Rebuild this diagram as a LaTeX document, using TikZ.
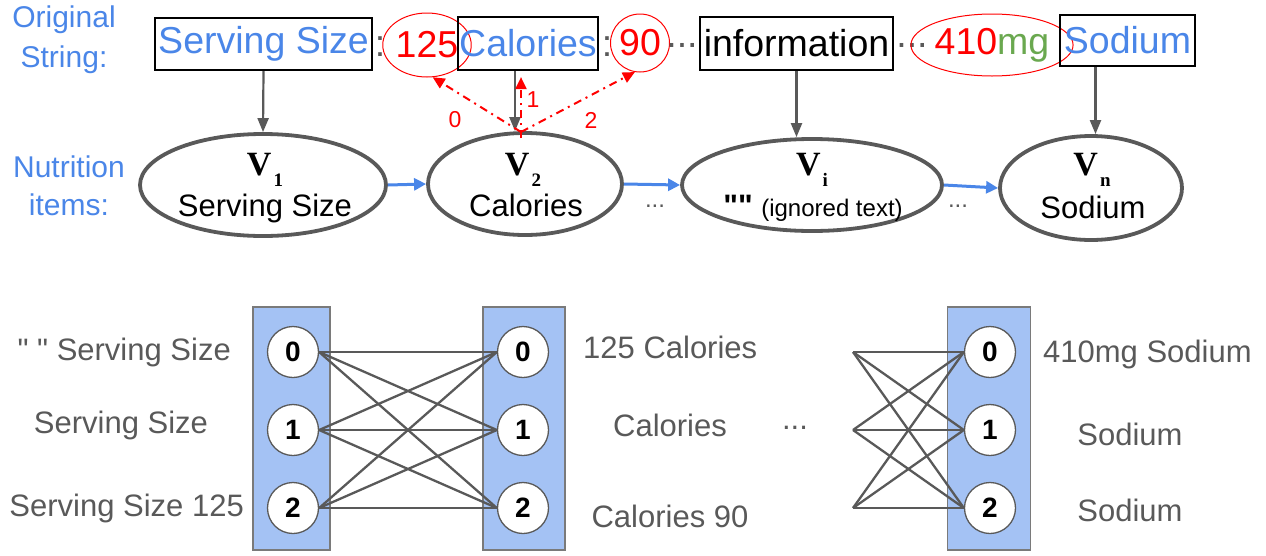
\documentclass[tikz,border=0pt]{standalone}
\usepackage{fontspec}
\setmainfont{Liberation Sans}
\newfontfamily\serifbf{Liberation Serif}
% family without TeX ligature mapping, so that " stays a straight quote
\newfontfamily\plainsans{Liberation Sans}
\usetikzlibrary{shapes.geometric,arrows.meta}

\definecolor{itemblue}{HTML}{4A86E8}
\definecolor{strred}{HTML}{FF0000}
\definecolor{unitgreen}{HTML}{6AA84F}
\definecolor{inkgray}{HTML}{595959}
\definecolor{colfill}{HTML}{A4C2F4}

\newcommand{\fs}[1]{\fontsize{#1}{#1}\selectfont}
\newcommand{\vsym}[1]{{\serifbf\bfseries\fs{34}V\kern2pt\raisebox{-11pt}{\fs{19}#1}}}
\newcommand{\dq}{{\plainsans\char34}}

\tikzset{
  strbox/.style={draw=black, line width=2.2pt, inner sep=0pt, text=itemblue, font=\fs{37.5}},
  tok/.style={inner sep=0pt, font=\fs{37.5}},
  ring/.style={ellipse, draw=strred, line width=1pt, inner sep=0pt, font=\fs{37.5}, text=strred},
  item/.style={ellipse, draw=inkgray, line width=3.8pt, fill=white, inner sep=0pt},
  itemtext/.style={inner sep=0pt, font=\fs{31}},
  garrow/.style={draw=inkgray, line width=2.2pt, -{Triangle[width=11pt,length=14pt]}},
  barrow/.style={draw=itemblue, line width=3pt, -{Triangle[width=12pt,length=12pt]}},
  rarrow/.style={draw=strred, line width=2pt, dash pattern=on 8pt off 5pt on 2pt off 5pt, -{Triangle[width=11pt,length=12pt]}},
  rlabel/.style={inner sep=0pt, text=strred, font=\fs{23}},
  col/.style={draw=inkgray!80, fill=colfill, line width=1.3pt, minimum height=243pt, inner sep=0pt},
  state/.style={circle, draw=inkgray, fill=white, line width=1.3pt, minimum size=51pt, inner sep=0pt, font=\bfseries\fs{28}},
  link/.style={draw=inkgray, line width=2.3pt},
  cand/.style={text=inkgray, font=\fs{31}, inner sep=0pt},
  side/.style={text=itemblue, font=\fs{30}, align=center, inner sep=0pt}
}

\begin{document}
\begin{tikzpicture}[x=1pt, y=-1pt]
\useasboundingbox (0,0) rectangle (1266,555);

% ---- row labels ----
\node[side, font=\fontsize{30}{40}\selectfont] (lblorig) at (64,40) {Original\\String:};
\node[side, font=\fontsize{30}{38}\selectfont] (lblitems) at (69,186) {Nutrition\\items:};

% ---- original string ----
\node[strbox, minimum width=217pt, minimum height=52pt] (box1) at (263.5,44) {Serving Size};
\node[tok, text=inkgray] (colon1) at (380,47) {:};
\node[ring, minimum width=66pt, minimum height=64pt] (c125) at (427,45) {125};
\node[strbox, minimum width=140pt, minimum height=53pt] (box2) at (528,43.5) {Calories};
\node[tok, text=inkgray] (colon2) at (607,47) {:};
\node[ring, minimum width=42pt, minimum height=58pt] (c90) at (640,43) {90};
\node[tok, text=inkgray] (dots1) at (682,45) {...};
\node[strbox, text=black, minimum width=193pt, minimum height=53pt] (box3) at (796.5,43.5) {information};
\node[tok, text=inkgray] (dots2) at (912,45) {...};
\node[ring, minimum width=125pt, minimum height=62pt] (c410) at (992,45) {410{\color{unitgreen}mg}};
\node[strbox, minimum width=135pt, minimum height=51pt] (box4) at (1127.5,40.5) {Sodium};

% ---- nutrition items ----
\node[item, minimum width=246pt, minimum height=102pt] (e1) at (263,185) {};
\node[item, minimum width=194pt, minimum height=102pt] (e2) at (525,184) {};
\node[item, minimum width=260pt, minimum height=92pt]  (ei) at (812,185) {};
\node[item, minimum width=182pt, minimum height=104pt] (en) at (1091,188) {};

\node[inner sep=0pt] (v1) at (265,170) {\vsym{1}};
\node[itemtext] (t1) at (265,208) {Serving Size};
\node[inner sep=0pt] (v2) at (523,170) {\vsym{2}};
\node[itemtext] (t2) at (526,205) {Calories};
\node[inner sep=0pt] (vi) at (812,170) {\vsym{i}};
\node[itemtext] (ti) at (813,208) {{\bfseries\dq\dq} {\fs{24}(ignored text)}};
\node[inner sep=0pt] (vn) at (1092,170) {\vsym{n}};
\node[itemtext] (tn) at (1093,207) {Sodium};

\draw[garrow] (box1.south) -- (e1.north);
\draw[garrow] ([xshift=-13pt]box2.south) -- ([xshift=-13pt]box2.south |- e2.north);
\draw[garrow] (box3.south) -- (box3.south |- ei.north);
\draw[garrow] ([xshift=-32pt]box4.south) -- ([xshift=-32pt]box4.south |- en.north);

\draw[barrow] (e1.east) -- (e2.west);
\draw[barrow] (e2.east) -- (ei.west);
\draw[barrow] (ei.east) -- (en.west);
\node[tok, font=\fs{24}, text=inkgray] (gap1) at (655,206) {...};
\node[tok, font=\fs{24}, text=inkgray] (gap2) at (958,206) {...};

% ---- candidate values for Calories ----
\coordinate (rs) at (521,132);
\draw[rarrow] (rs) -- (c125.-80);
\draw[rarrow] ([yshift=-6pt]rs) -- ([yshift=-6pt]rs |- box2.south);
\draw[rarrow] (rs) -- (c90.-100);
\node[rlabel] (r0) at (455,120) {0};
\node[rlabel] (r1) at (533,100) {1};
\node[rlabel] (r2) at (591,120) {2};

% ---- state lattice ----
\node[col, minimum width=77pt] (col1) at (291.5,428.5) {};
\node[col, minimum width=82pt] (col2) at (524,428.5) {};
\node[col, minimum width=83pt] (col3) at (989,428.5) {};

\foreach \k/\y in {0/352,1/430,2/508}{
  \node[state] (a\k) at (293,\y) {\k};
  \node[state] (b\k) at (523,\y) {\k};
  \node[state] (d\k) at (990,\y) {\k};
  \coordinate (p\k) at (853,\y);
}
\foreach \i in {0,1,2}{
  \foreach \j in {0,1,2}{
    \draw[link] (a\i.east) -- (b\j.west);
    \draw[link] (p\i) -- (d\j.west);
  }
}

\node[cand, anchor=east] (s0) at (231,352) {\dq\ \dq\ Serving Size};
\node[cand] (s1) at (121,425) {Serving Size};
\node[cand, anchor=east] (s2) at (244,508) {Serving Size 125};
\node[cand, anchor=west] (k0) at (583,347) {125 Calories};
\node[cand] (k1) at (670,425) {Calories};
\node[cand] (k2) at (670,516) {Calories 90};
\node[cand] (gap3) at (795,428) {...};
\node[cand, anchor=west] (m0) at (1043,354) {410mg Sodium};
\node[cand] (m1) at (1130,434) {Sodium};
\node[cand] (m2) at (1130,510) {Sodium};
\end{tikzpicture}
\end{document}
